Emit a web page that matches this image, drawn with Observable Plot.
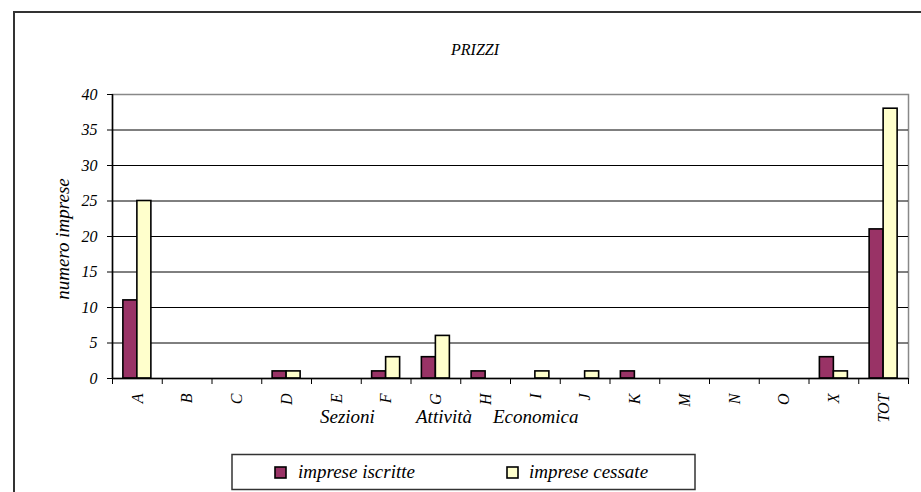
<!DOCTYPE html>
<html>
<head>
<meta charset="utf-8">
<script src="https://cdn.jsdelivr.net/npm/d3@7"></script>
<script src="https://cdn.jsdelivr.net/npm/@observablehq/plot@0.6"></script>
<style>
  html, body { margin: 0; padding: 0; background: #fff; }
  #wrap { position: relative; width: 921px; height: 492px; overflow: hidden; background: #fff; }
  #wrap > svg { position: absolute; left: 0; top: 0; }
  #wrap svg text { font-family: "Liberation Serif", "Times New Roman", Tinos, "DejaVu Serif", serif !important; font-style: italic; }
  .ov text { fill: #000; }
</style>
</head>
<body>
<div id="wrap"></div>
<script>
// ---- data ----
const categories = ["A","B","C","D","E","F","G","H","I","J","K","M","N","O","X","TOT"];
const iscritte   = [11, 0, 0, 1, 0, 1, 3, 1, 0, 0, 1, 0, 0, 0, 3, 21];
const cessate    = [25, 0, 0, 1, 0, 3, 6, 0, 1, 1, 0, 0, 0, 0, 1, 38];
const seriesNames = ["imprese iscritte", "imprese cessate"];
const seriesColors = ["#993366", "#FFFFCC"];
const yTicks = [0, 5, 10, 15, 20, 25, 30, 35, 40];
const chartTitle = "PRIZZI";
const yLabel = "numero imprese";
const xLabelWords = ["Sezioni", "Attività", "Economica"];

// ---- layout ----
const W = 921, H = 492;
const mL = 112, mR = 13, mT = 94, mB = 114;
const step = (W - mL - mR) / categories.length;
const bw = 14;
const serif = "'Liberation Serif', 'Times New Roman', Tinos, 'DejaVu Serif', serif";

const rows = categories.flatMap((c, i) => [
  {category: c, series: seriesNames[0], value: iscritte[i]},
  {category: c, series: seriesNames[1], value: cessate[i]}
]).filter(d => d.value > 0);

const chart = Plot.plot({
  width: W, height: H,
  marginLeft: mL, marginRight: mR, marginTop: mT, marginBottom: mB,
  style: {fontFamily: serif, fontStyle: "italic", fontSize: "16px", background: "transparent", color: "#000"},
  x: {domain: categories, padding: 0, round: false, axis: null},
  y: {domain: [0, 40], axis: null},
  color: {domain: seriesNames, range: seriesColors},
  marks: [
    Plot.frame({stroke: "#888", strokeWidth: 1.5}),
    Plot.ruleY(yTicks.filter(t => t > 0 && t < 40), {stroke: "#000", strokeWidth: 1}),
    Plot.barY(rows.filter(d => d.series === seriesNames[0]), {
      x: "category", y: "value", fill: "series", stroke: "#000", strokeWidth: 1.6,
      insetLeft: step / 2 - bw, insetRight: step / 2
    }),
    Plot.barY(rows.filter(d => d.series === seriesNames[1]), {
      x: "category", y: "value", fill: "series", stroke: "#000", strokeWidth: 1.6,
      insetLeft: step / 2, insetRight: step / 2 - bw
    }),
    Plot.ruleY([0], {stroke: "#000", strokeWidth: 1.5}),
    Plot.ruleX([categories[0]], {dx: -step / 2, stroke: "#000", strokeWidth: 1.5}),
    Plot.axisY({ticks: yTicks, tickSize: 5, tickPadding: 10, label: null, fontSize: 16, stroke: "#000"}),
    Plot.axisX({ticks: categories, tickSize: 6, tickFormat: () => "", dx: -step / 2, label: null}),
    Plot.axisX({ticks: [categories[categories.length - 1]], tickSize: 6, tickFormat: () => "", dx: step / 2, label: null}),
    Plot.axisX({ticks: categories, tickSize: 0, tickRotate: -90, tickPadding: 15, label: null, fontSize: 16})
  ]
});

const wrap = document.getElementById("wrap");
wrap.appendChild(chart);

// ---- overlay: frame, title, axis titles, legend ----
const color = chart.scale("color");
const ov = d3.select(wrap).append("svg")
  .attr("class", "ov")
  .attr("width", W).attr("height", H)
  .style("pointer-events", "none");

ov.append("rect")
  .attr("x", 14).attr("y", 12).attr("width", 1000).attr("height", 1000)
  .attr("fill", "none").attr("stroke", "#333").attr("stroke-width", 2);

ov.append("text")
  .attr("x", 475).attr("y", 55).attr("text-anchor", "middle")
  .style("font-size", "16px").text(chartTitle);

ov.append("text")
  .attr("transform", "translate(69,239) rotate(-90)")
  .attr("text-anchor", "middle")
  .style("font-size", "19px").text(yLabel);

const xl = ov.append("text").attr("y", 423).style("font-size", "19px");
const xPos = [320, 416, 493];
xLabelWords.forEach((w, i) => xl.append("tspan").attr("x", xPos[i]).text(w));

const lg = ov.append("g");
lg.append("rect")
  .attr("x", 232).attr("y", 454.5).attr("width", 463).attr("height", 35)
  .attr("fill", "#fff").attr("stroke", "#333").attr("stroke-width", 1.5);
const legX = [[275, 298], [507, 529]];
seriesNames.forEach((s, i) => {
  lg.append("rect")
    .attr("x", legX[i][0]).attr("y", 467).attr("width", 11).attr("height", 11)
    .attr("fill", color.apply(s)).attr("stroke", "#000").attr("stroke-width", 1.6);
  lg.append("text")
    .attr("x", legX[i][1]).attr("y", 478)
    .style("font-size", "19px").text(s);
});
</script>
</body>
</html>
